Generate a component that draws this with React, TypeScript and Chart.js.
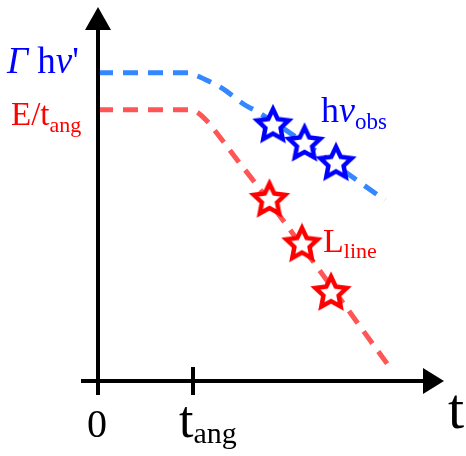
import { useEffect, useRef } from "react";
import { Chart, registerables } from "chart.js";

Chart.register(...registerables);

// ---- data (schematic units: x in t/t_ang, y arbitrary) ----
const blueLineX = [0, 0.947, 1.042, 1.179, 1.305, 1.547, 1.684, 3.02];
const blueLineY = [8.24, 8.24, 8.16, 8.0, 7.83, 7.38, 7.19, 4.84];
const redLineX = [0, 0.968, 1.053, 1.147, 1.274, 1.474, 1.632, 3.053];
const redLineY = [7.25, 7.25, 7.17, 6.95, 6.55, 5.88, 5.37, 0.43];
const blueStarX = [1.842, 2.174, 2.505];
const blueStarY = [6.83, 6.34, 5.82];
const redStarX = [1.805, 2.147, 2.453];
const redStarY = [4.84, 3.65, 2.35];
const tickValues = [0, 1];

const FONT = '"Liberation Serif", "Times New Roman", serif';
const BLUE_LINE = "rgb(51,136,255)";
const RED_LINE = "rgb(255,85,85)";
const BLUE = "#0000ff";
const RED = "#ff0000";

function toPts(xs: number[], ys: number[]) {
  return xs.map((x, i) => ({ x, y: ys[i] }));
}

function makeStar(color: string) {
  const size = 44;
  const c = document.createElement("canvas");
  c.width = size;
  c.height = size;
  const ctx = c.getContext("2d")!;
  const R = 16.5;
  const r = 8;
  const cx = size / 2;
  const cy = size / 2;
  ctx.beginPath();
  for (let i = 0; i < 10; i++) {
    const rad = i % 2 === 0 ? R : r;
    const a = -Math.PI / 2 + (i * Math.PI) / 5;
    const px = cx + rad * Math.cos(a);
    const py = cy + rad * Math.sin(a);
    if (i === 0) ctx.moveTo(px, py);
    else ctx.lineTo(px, py);
  }
  ctx.closePath();
  ctx.fillStyle = "#ffffff";
  ctx.fill();
  ctx.lineWidth = 4.5;
  ctx.lineJoin = "miter";
  ctx.strokeStyle = color;
  ctx.stroke();
  return c;
}

type Run = { t: string; size: number; italic?: boolean; dy?: number };

function drawRuns(ctx: CanvasRenderingContext2D, x: number, y: number, runs: Run[], color: string) {
  ctx.fillStyle = color;
  ctx.textBaseline = "alphabetic";
  ctx.textAlign = "left";
  let cx = x;
  for (const r of runs) {
    ctx.font = `${r.italic ? "italic " : ""}${r.size}px ${FONT}`;
    ctx.fillText(r.t, cx, y + (r.dy || 0));
    cx += ctx.measureText(r.t).width;
  }
}

const decorPlugin = {
  id: "decor",
  afterDraw(chart: any) {
    const ctx: CanvasRenderingContext2D = chart.ctx;
    const xs = chart.scales.x;
    const ys = chart.scales.y;
    const x0 = xs.getPixelForValue(0);
    const y0 = ys.getPixelForValue(0);
    const yTop = ys.getPixelForValue(ys.max);
    const xRight = xs.getPixelForValue(xs.max);
    ctx.save();
    ctx.strokeStyle = "#000";
    ctx.fillStyle = "#000";
    ctx.lineWidth = 4;
    ctx.lineCap = "butt";
    // y axis
    ctx.beginPath();
    ctx.moveTo(x0, y0 + 14);
    ctx.lineTo(x0, yTop + 20);
    ctx.stroke();
    ctx.beginPath();
    ctx.moveTo(x0, yTop);
    ctx.lineTo(x0 - 13, yTop + 23);
    ctx.lineTo(x0 + 13, yTop + 23);
    ctx.closePath();
    ctx.fill();
    // x axis
    ctx.beginPath();
    ctx.moveTo(x0 - 17, y0);
    ctx.lineTo(xRight - 18, y0);
    ctx.stroke();
    ctx.beginPath();
    ctx.moveTo(xRight, y0);
    ctx.lineTo(xRight - 21, y0 - 13);
    ctx.lineTo(xRight - 21, y0 + 13);
    ctx.closePath();
    ctx.fill();
    // tick at t_ang
    const xt = xs.getPixelForValue(tickValues[1]);
    ctx.beginPath();
    ctx.moveTo(xt, y0 - 14);
    ctx.lineTo(xt, y0 + 14);
    ctx.stroke();

    // tick labels
    ctx.fillStyle = "#000";
    ctx.textAlign = "center";
    ctx.font = `40px ${FONT}`;
    ctx.fillText("0", x0 - 1, y0 + 56);
    drawRuns(ctx, xt - 14, y0 + 56, [
      { t: "t", size: 52 },
      { t: "ang", size: 30, dy: 6 },
    ], "#000");
    drawRuns(ctx, xRight + 4, y0 + 47, [{ t: "t", size: 58 }], "#000");

    // y labels
    drawRuns(ctx, 7, 73, [
      { t: "Γ", size: 37, italic: true },
      { t: " h", size: 37 },
      { t: "ν", size: 37, italic: true },
      { t: "'", size: 37 },
    ], BLUE);
    drawRuns(ctx, 11, 125, [
      { t: "E/t", size: 33 },
      { t: "ang", size: 22, dy: 7 },
    ], RED);

    // series labels
    drawRuns(ctx, 321, 122, [
      { t: "h", size: 36 },
      { t: "ν", size: 36, italic: true },
      { t: "obs", size: 23, dy: 7 },
    ], BLUE);
    drawRuns(ctx, 323, 252, [
      { t: "L", size: 34 },
      { t: "line", size: 22, dy: 6 },
    ], RED);
    ctx.restore();
  },
};

export default function App() {
  const ref = useRef<HTMLCanvasElement | null>(null);
  useEffect(() => {
    if (!ref.current) return;
    const blueStar = makeStar(BLUE);
    const redStar = makeStar(RED);
    const chart = new Chart(ref.current, {
      type: "line",
      data: {
        datasets: [
          {
            data: toPts(blueStarX, blueStarY),
            showLine: false,
            pointStyle: blueStar as any,
            pointRadius: 16,
            clip: false as any,
          },
          {
            data: toPts(redStarX, redStarY),
            showLine: false,
            pointStyle: redStar as any,
            pointRadius: 16,
            clip: false as any,
          },
          {
            data: toPts(blueLineX, blueLineY),
            borderColor: BLUE_LINE,
            borderWidth: 5,
            borderDash: [15, 10],
            pointRadius: 0,
            cubicInterpolationMode: "monotone",
            fill: false,
            clip: false as any,
          },
          {
            data: toPts(redLineX, redLineY),
            borderColor: RED_LINE,
            borderWidth: 5,
            borderDash: [15, 10],
            pointRadius: 0,
            cubicInterpolationMode: "monotone",
            fill: false,
            clip: false as any,
          },
        ],
      },
      options: {
        animation: false,
        responsive: false,
        devicePixelRatio: 1,
        layout: { autoPadding: false, padding: { left: 98, right: 22, top: 7, bottom: 75 } },
        plugins: { legend: { display: false }, tooltip: { enabled: false } },
        events: [],
        scales: {
          x: { type: "linear", min: 0, max: 3.642, display: false },
          y: { type: "linear", min: 0, max: 10, display: false },
        },
      },
      plugins: [decorPlugin],
    });
    return () => chart.destroy();
  }, []);
  return (
    <div style={{ position: "fixed", left: 0, top: 0, width: 466, height: 456, background: "#fff" }}>
      <canvas ref={ref} width={466} height={456} style={{ display: "block" }} />
    </div>
  );
}
